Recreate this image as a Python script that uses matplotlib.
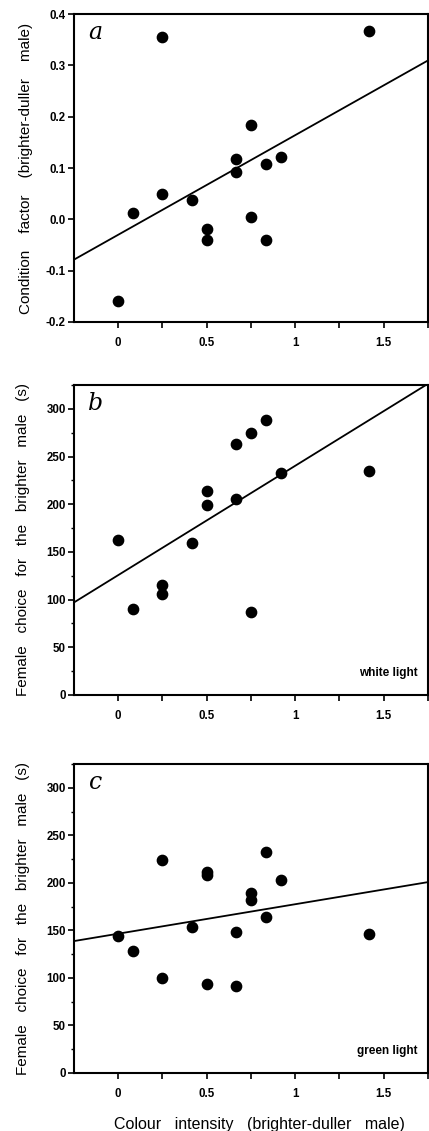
import matplotlib.pyplot as plt
import numpy as np
from matplotlib.ticker import MultipleLocator

plt.rcParams['font.family'] = ['Liberation Sans', 'DejaVu Sans']

# colour intensity (brighter - duller male)
x_a = [0, 0.083, 0.25, 0.25, 0.417, 0.5, 0.5, 0.667, 0.667, 0.75, 0.75, 0.833, 0.833, 0.917, 1.417]
cond_a = [-0.160, 0.012, 0.355, 0.050, 0.038, -0.018, -0.040, 0.117, 0.093, 0.183, 0.004, 0.107, -0.040, 0.121, 0.367]

x_b = [0, 0.083, 0.25, 0.25, 0.417, 0.5, 0.5, 0.667, 0.667, 0.75, 0.75, 0.833, 0.917, 1.417]
white_b = [163, 90, 115, 106, 159, 214, 199, 263, 206, 275, 87, 288, 233, 235]

x_c = [0, 0.083, 0.25, 0.25, 0.417, 0.5, 0.5, 0.5, 0.667, 0.667, 0.75, 0.75, 0.833, 0.833, 0.917, 1.417]
green_c = [144, 128, 224, 100, 154, 211, 208, 94, 148, 91, 189, 182, 232, 164, 203, 146]

# regression lines (intercept, slope)
fit_a = (-0.030, 0.194)
fit_b = (125.7, 114.6)
fit_c = (146.5, 31.0)

fig = plt.figure(figsize=(4.29, 11.31), dpi=100)
left, width = 0.1725, 0.825
ax_a = fig.add_axes([left, 0.7153, width, 0.2723])
ax_b = fig.add_axes([left, 0.3855, width, 0.2741])
ax_c = fig.add_axes([left, 0.0513, width, 0.2732])

panels = [
    (ax_a, x_a, cond_a, fit_a, 'a', None),
    (ax_b, x_b, white_b, fit_b, 'b', 'white light'),
    (ax_c, x_c, green_c, fit_c, 'c', 'green light'),
]

xline = np.array([-0.25, 1.75])
for ax, xs, ys, fit, letter, note in panels:
    ax.scatter(xs, ys, s=55, color='black', zorder=3)
    ax.plot(xline, fit[0] + fit[1] * xline, color='black', lw=1.3)
    ax.set_xlim(-0.25, 1.75)
    ax.set_xticks([0, 0.25, 0.5, 0.75, 1, 1.25, 1.5, 1.75])
    ax.set_xticklabels(['0', '', '0.5', '', '1', '', '1.5', ''])
    ax.tick_params(axis='both', direction='out', length=4, width=1.2,
                   labelsize=8.3, pad=7)
    ax.tick_params(axis='y', pad=2)
    ax.tick_params(which='minor', direction='out', length=2.5, width=1)
    for lab in ax.get_xticklabels():
        lab.set_fontweight('bold')
    for sp in ax.spines.values():
        sp.set_linewidth(1.5)
    ax.text(0.06, 0.94, letter, transform=ax.transAxes, fontsize=17,
            family='DejaVu Serif', style='italic', va='center', ha='center')
    if note:
        ax.text(0.97, 0.07, note, transform=ax.transAxes, fontsize=8.5,
                fontweight='bold', ha='right', va='center')

ax_a.set_ylim(-0.2, 0.4)
ax_a.set_yticks([-0.2, -0.1, 0.0, 0.1, 0.2, 0.3, 0.4])
ax_a.set_yticklabels(['-0.2', '-0.1', '0.0', '0.1', '0.2', '0.3', '0.4'], fontweight='bold')
ax_a.set_ylabel('Condition    factor    (brighter-duller    male)', fontsize=11, labelpad=9)

for ax in (ax_b, ax_c):
    ax.set_ylim(0, 325)
    ax.yaxis.set_major_locator(MultipleLocator(50))
    ax.yaxis.set_minor_locator(MultipleLocator(25))
    for lab in ax.get_yticklabels():
        lab.set_fontweight('bold')
    ax.set_ylabel('Female   choice   for   the   brighter   male   (s)', fontsize=11, labelpad=12)

ax_c.set_xlabel('Colour   intensity   (brighter-duller   male)', fontsize=11.5, labelpad=12)
ax_c.xaxis.label.set_x(0.525)

fig.savefig('out.png', dpi=100)
